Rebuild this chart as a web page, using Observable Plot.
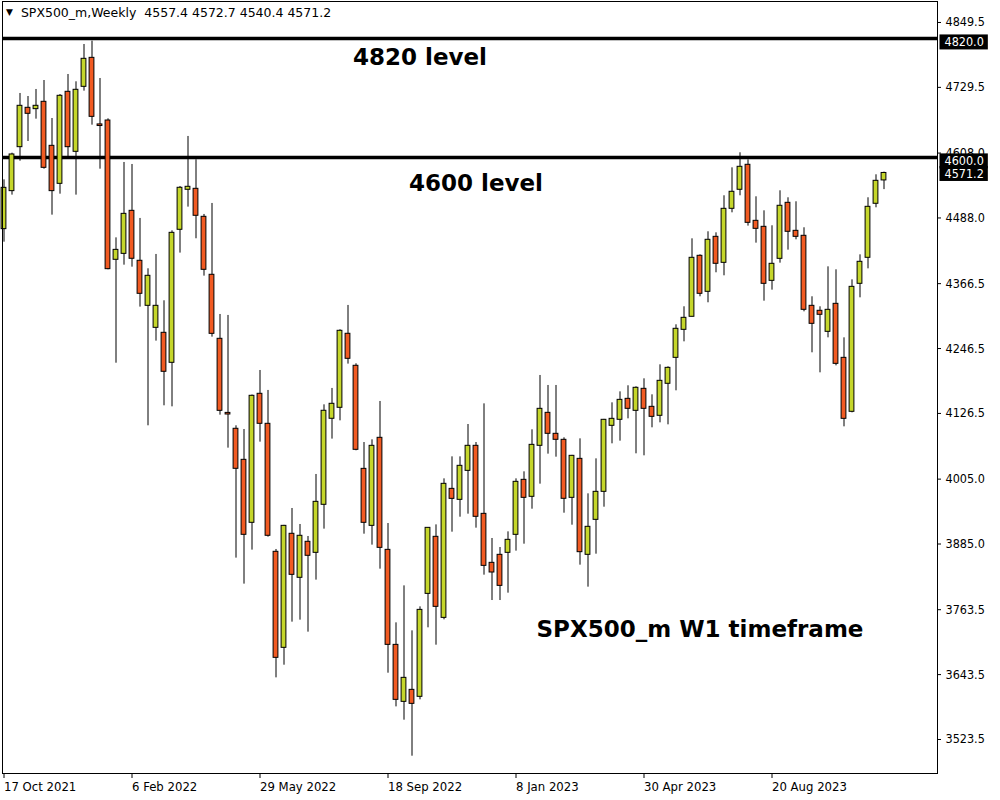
<!DOCTYPE html>
<html>
<head>
<meta charset="utf-8">
<script src="https://cdn.jsdelivr.net/npm/d3@7"></script>
<script src="https://cdn.jsdelivr.net/npm/@observablehq/plot@0.6"></script>
<style>
  body { margin: 0; background: #fff; }
  #wrap { position: relative; width: 1000px; height: 800px; }
  #hdr { position: absolute; left: 6px; top: 5px; font: 12.5px "DejaVu Sans", sans-serif; color: #000; white-space: pre; }
  #hdr .tri { font-size: 9px; margin-right: 8px; position: relative; top: -2px; }
</style>
</head>
<body>
<div id="wrap">
  <div id="hdr"><span class="tri">▼</span>SPX500_m,Weekly  4557.4 4572.7 4540.4 4571.2</div>
</div>
<script>
// Weekly bars, first bar = week of 17 Oct 2021 (index 0), last = index 110
const opens = [
4467.3,4537.6,4618.9,4691.7,4689.2,4702.8,4621.4,4551.1,4721.3,4610.3,
4730.5,4784.1,4661.0,4668.2,4410.6,4421.6,4501.2,4408.8,4325.5,4284.8,
4275.6,4220.1,4466.1,4540.1,4541.9,4490.1,4382.9,4264.5,4127.5,4098.1,
4040.7,3924.2,4162.8,4107.3,3870.6,3693.0,3903.9,3822.5,3889.1,3868.7,
3957.5,4116.6,4136.9,4273.8,4214.6,4024.0,3918.6,4081.4,3874.2,3698.5,
3593.1,3615.3,3602.4,3792.8,3898.3,3748.4,3987.0,3966.7,4020.3,4066.6,
3940.8,3850.2,3865.0,3868.7,3902.0,4003.7,3972.3,4066.6,4127.6,4088.8,
4077.7,3970.4,4042.5,3865.0,3929.7,3981.5,4103.6,4114.7,4153.5,4131.3,
4172.0,4138.7,4122.1,4181.3,4229.3,4281.1,4305.2,4418.0,4351.4,4453.1,
4405.0,4504.9,4540.1,4586.3,4482.7,4471.6,4371.7,4412.4,4516.0,4464.2,
4455.0,4325.5,4316.3,4277.4,4329.2,4229.3,4129.5,4366.2,4414.3,4514.2,
4557.4];
const highs = [
4558.5,4607.8,4718.2,4712.6,4725.6,4742.2,4671.9,4716.3,4753.3,4739.8,
4808.8,4815.0,4745.9,4671.3,4451.2,4590.6,4586.9,4487.1,4394.0,4420.5,
4334.8,4464.2,4546.2,4638.7,4595.6,4494.5,4514.8,4309.5,4307.7,4103.6,
4096.8,4160.5,4205.9,4169.0,3874.9,3919.5,3950.7,3921.1,3898.9,4013.6,
4142.4,4172.7,4281.2,4326.2,4218.3,4072.7,4077.7,4148.6,3922.9,3739.2,
3807.6,3724.4,3768.8,3915.5,3920.4,4005.5,4046.2,4046.2,4106.0,4072.7,
4144.2,3895.2,3878.5,3907.5,4005.5,4018.5,4096.2,4196.7,4178.2,4178.2,
4081.4,4048.9,4079.5,3977.8,4042.5,4115.5,4146.1,4166.4,4177.6,4175.7,
4190.5,4160.9,4216.4,4212.7,4290.4,4323.7,4449.4,4419.8,4462.4,4460.5,
4529.0,4580.7,4608.5,4595.5,4527.1,4501.2,4473.5,4538.2,4525.3,4517.9,
4469.8,4342.2,4323.7,4397.6,4392.1,4266.3,4373.6,4419.8,4525.3,4567.8,
4572.7];
const lows = [
4443.2,4530.2,4593.0,4629.4,4670.7,4578.2,4493.2,4532.0,4600.4,4530.2,
4722.5,4659.6,4578.2,4392.1,4219.4,4400.7,4397.0,4323.1,4103.6,4260.2,
4140.6,4138.7,4423.0,4508.0,4449.5,4380.4,4267.6,4123.3,4062.3,3858.9,
3810.8,3873.7,4073.4,3897.7,3637.5,3660.9,3740.5,3744.2,3722.0,3818.2,
3912.5,4079.0,4112.8,4217.7,4057.4,3903.2,3882.9,3838.5,3646.1,3583.8,
3559.2,3492.6,3596.8,3730.0,3697.9,3744.8,3906.9,3934.6,3940.2,3914.3,
3827.4,3780.5,3780.5,3794.1,3871.8,3884.7,3949.4,3995.7,4051.2,4045.6,
3942.0,3919.8,3845.9,3805.2,3866.2,3953.1,4070.3,4075.2,4116.5,4051.8,
4048.1,4099.9,4109.1,4105.4,4168.3,4258.9,4305.0,4342.2,4331.1,4386.6,
4381.0,4497.5,4529.0,4472.9,4441.4,4334.1,4354.5,4404.4,4428.5,4447.6,
4314.4,4238.6,4201.6,4266.3,4214.5,4101.7,4127.6,4340.3,4393.9,4506.8,
4540.4];
const closes = [
4543.7,4605.4,4695.4,4680.6,4695.4,4580.7,4537.6,4713.9,4618.9,4725.0,
4782.3,4675.0,4658.0,4393.3,4429.0,4495.6,4412.5,4347.7,4381.0,4325.5,
4203.5,4460.5,4543.8,4545.6,4492.0,4392.1,4273.7,4131.3,4124.5,4024.1,
3902.0,4159.1,4107.3,3900.2,3674.5,3918.6,3828.0,3900.2,3863.2,3963.0,
4131.4,4144.3,4279.3,4227.5,4059.2,3924.2,4066.6,3877.9,3698.5,3596.8,
3637.5,3589.4,3763.2,3914.9,3768.8,3996.3,3968.5,4029.6,4066.6,3935.3,
3844.6,3832.3,3807.6,3892.7,4000.0,3970.4,4068.4,4135.0,4088.8,4077.7,
3968.6,4048.1,3869.9,3916.8,3981.5,4114.7,4116.5,4151.6,4135.0,4173.9,
4135.0,4120.2,4186.8,4210.8,4283.0,4303.3,4414.3,4347.7,4447.6,4403.2,
4504.9,4536.4,4582.6,4479.0,4467.9,4366.2,4403.2,4510.5,4462.4,4453.1,
4318.1,4292.2,4308.9,4318.1,4218.2,4116.5,4360.6,4406.9,4508.6,4556.7,
4571.2];

const xTickIndex = [0, 16, 32, 48, 64, 80, 96];
const xTickLabels = ["17 Oct 2021", "6 Feb 2022", "29 May 2022", "18 Sep 2022", "8 Jan 2023", "30 Apr 2023", "20 Aug 2023"];
const yTicks = [4849.5, 4729.5, 4608.0, 4488.0, 4366.5, 4246.5, 4126.5, 4005.0, 3885.0, 3763.5, 3643.5, 3523.5];
const levels = [4820, 4600];
const levelTags = [{price: 4820, text: "4820.0"}, {price: 4600, text: "4600.0"}];
const lastTag = [{price: 4571.2, text: "4571.2"}];
const notes = [
  {text: "4820 level", bar: 52, price: 4784},
  {text: "4600 level", bar: 59, price: 4552},
  {text: "SPX500_m W1 timeframe", bar: 87, price: 3727}
];
const bullColor = "#c5d62b";
const bearColor = "#f15a22";

const bars = opens.map((o, i) => ({bar: i, open: o, high: highs[i], low: lows[i], close: closes[i]}));

const chart = Plot.plot({
  width: 1000,
  height: 800,
  marginTop: 1,
  marginLeft: 2,
  marginRight: 63,
  marginBottom: 27,
  style: {fontFamily: "'DejaVu Sans Condensed', sans-serif", fontSize: "12px", background: "#fff", color: "#000", overflow: "visible"},
  x: {type: "linear", domain: [-0.1875, 116.6875]},
  y: {domain: [3460.6, 4888.3]},
  color: {type: "identity"},
  marks: [
    Plot.axisY({anchor: "right", ticks: yTicks, tickFormat: d => d.toFixed(1), tickSize: 3, tickPadding: 5, label: null, fontSize: 12.5}),
    Plot.axisX({anchor: "bottom", ticks: xTickIndex, tickFormat: i => xTickLabels[xTickIndex.indexOf(i)], tickSize: 5, tickPadding: 3, textAnchor: "start", label: null, fontSize: 13}),
    Plot.ruleY(levels, {stroke: "#000", strokeWidth: 3.5}),
    Plot.ruleX(bars, {x: "bar", y1: "low", y2: "high", stroke: "#000", strokeWidth: 1}),
    Plot.rect(bars, {
      x1: d => d.bar - 0.3, x2: d => d.bar + 0.3,
      y1: "open", y2: "close",
      fill: d => d.close >= d.open ? bullColor : bearColor,
      stroke: "#000", strokeWidth: 1
    }),
    Plot.text(notes, {x: "bar", y: "price", text: "text", fontSize: 23, fontWeight: "bold", fontFamily: "'DejaVu Sans', sans-serif", fill: "#000"}),
    Plot.frame({stroke: "#000"}),
    Plot.text(levelTags, {frameAnchor: "right", y: "price", text: "text", textAnchor: "start", dx: 7, dy: 4, fill: "#fff", fontSize: 12.5}),
    Plot.text(lastTag, {frameAnchor: "right", y: "price", text: "text", textAnchor: "start", dx: 7, dy: 1, fill: "#fff", fontSize: 12.5})
  ]
});

document.getElementById("wrap").prepend(chart);

// black boxes behind the price tags
const tagSet = new Set([...levelTags, ...lastTag].map(d => d.text));
d3.select(chart).selectAll("text").filter(function() { return tagSet.has(this.textContent); }).each(function() {
  const b = this.getBBox();
  const r = document.createElementNS("http://www.w3.org/2000/svg", "rect");
  r.setAttribute("x", b.x - 5);
  r.setAttribute("y", b.y);
  r.setAttribute("width", b.width + 9);
  r.setAttribute("height", b.height);
  r.setAttribute("fill", "#000");
  const t = this.getAttribute("transform");
  if (t) r.setAttribute("transform", t);
  this.parentNode.insertBefore(r, this);
});
</script>
</body>
</html>
